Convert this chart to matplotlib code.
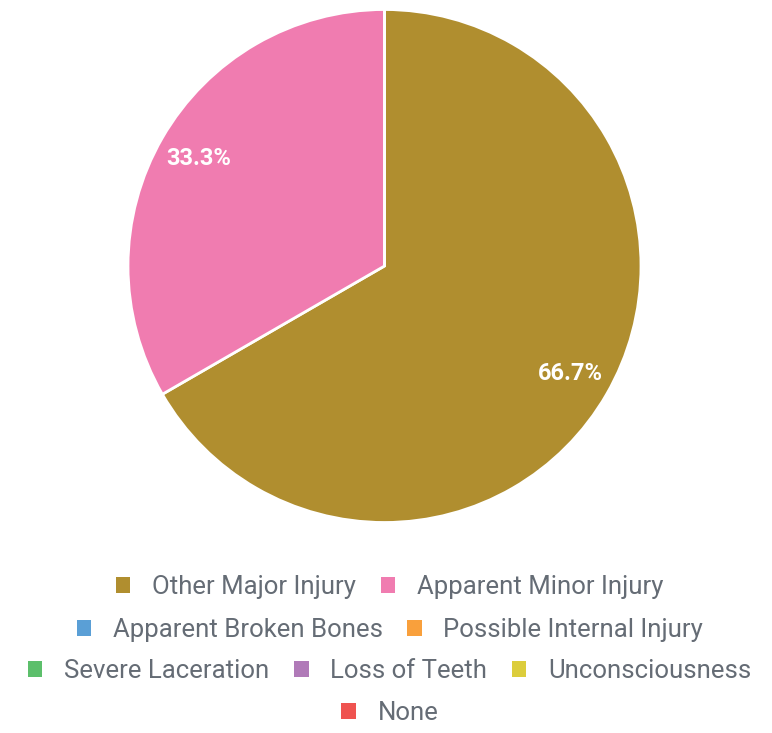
import matplotlib.pyplot as plt
from matplotlib.patches import Patch

categories = ["Other Major Injury", "Apparent Minor Injury", "Apparent Broken Bones",
              "Possible Internal Injury", "Severe Laceration", "Loss of Teeth",
              "Unconsciousness", "None"]
values = [2, 1, 0, 0, 0, 0, 0, 0]
colors = ["#b08e2f", "#f07cb0", "#5a9fd6", "#f9a03c", "#5cbf6b", "#b07ab8", "#dccd3c", "#ef5350"]
legend_rows = [[0, 1], [2, 3], [4, 5, 6], [7]]


def pct_label(p):
    return f"{p:.1f}%" if p > 0 else ""


def main():
    plt.rcParams['font.family'] = ['Roboto', 'DejaVu Sans']
    W, H = 772, 733
    fig = plt.figure(figsize=(W / 100, H / 100), dpi=100)

    cx, cy, r = 384.5, 266, 256.5
    ax = fig.add_axes([(cx - r) / W, (H - cy - r) / H, 2 * r / W, 2 * r / H])
    wedges, texts, autotexts = ax.pie(
        values, colors=colors, startangle=90, counterclock=False,
        autopct=pct_label, pctdistance=0.835,
        wedgeprops=dict(edgecolor='white', linewidth=2),
        textprops=dict(color='white', fontsize=17, fontweight='bold'))
    ax.set_xlim(-1, 1)
    ax.set_ylim(-1, 1)
    ax.set_aspect('equal')
    ax.axis('off')

    row_y = [587, 630, 671, 713]
    for row, y in zip(legend_rows, row_y):
        handles = [Patch(facecolor=colors[i], edgecolor='none') for i in row]
        labels = [categories[i] for i in row]
        leg = fig.legend(handles, labels, loc='center', bbox_to_anchor=(0.505, 1 - y / H),
                         ncol=len(row), frameon=False, fontsize=18.5,
                         handlelength=0.55, handleheight=0.55, handletextpad=0.85,
                         columnspacing=0.97, borderpad=0, borderaxespad=0)
        for t in leg.get_texts():
            t.set_color('#656c75')

    fig.savefig('out.png', dpi=100)


if __name__ == "__main__":
    main()
